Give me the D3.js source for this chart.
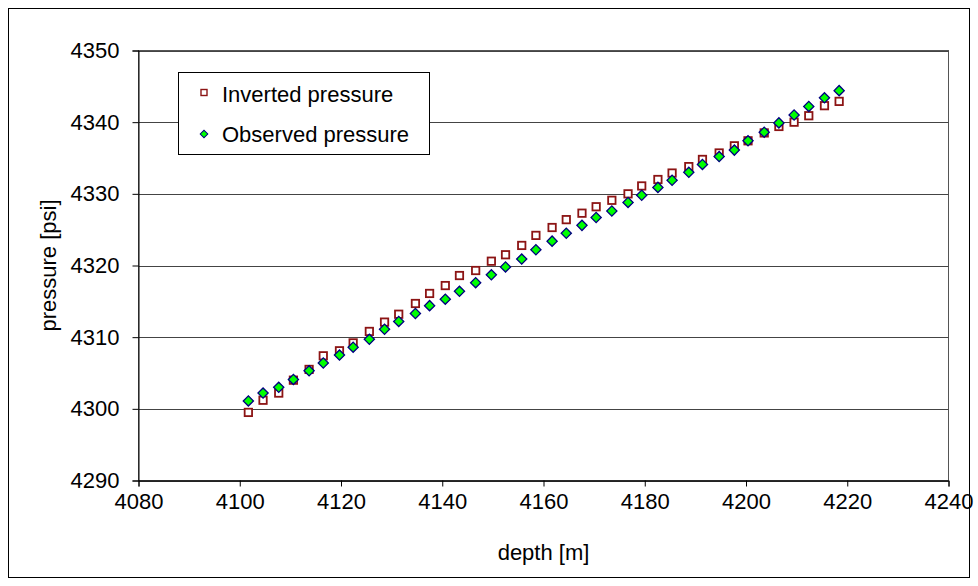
<!DOCTYPE html>
<html>
<head>
<meta charset="utf-8">
<script src="https://cdn.jsdelivr.net/npm/d3@7.9.0/dist/d3.min.js"></script>
<style>
  html, body { margin: 0; padding: 0; background: #fff; }
  svg text { font-family: "Liberation Sans", Arial, sans-serif; fill: #000; }
</style>
</head>
<body>
<svg id="chart" width="978" height="586"></svg>
<script>
const depth = [4101.7, 4104.6, 4107.7, 4110.6, 4113.7, 4116.5, 4119.7, 4122.4, 4125.6, 4128.6,
  4131.4, 4134.7, 4137.5, 4140.6, 4143.4, 4146.6, 4149.7, 4152.5, 4155.7, 4158.5,
  4161.7, 4164.5, 4167.6, 4170.4, 4173.5, 4176.7, 4179.4, 4182.6, 4185.4, 4188.7,
  4191.4, 4194.7, 4197.7, 4200.4, 4203.6, 4206.5, 4209.5, 4212.4, 4215.5, 4218.4];

const inverted = [4299.5, 4301.2, 4302.2, 4304.0, 4305.5, 4307.4, 4308.1, 4309.2, 4310.8, 4312.1,
  4313.2, 4314.7, 4316.1, 4317.2, 4318.6, 4319.3, 4320.6, 4321.5, 4322.8, 4324.2,
  4325.3, 4326.4, 4327.3, 4328.2, 4329.1, 4330.0, 4331.1, 4332.0, 4332.9, 4333.8,
  4334.8, 4335.7, 4336.7, 4337.4, 4338.5, 4339.4, 4340.0, 4340.9, 4342.3, 4342.9];

const observed = [4301.1, 4302.2, 4303.0, 4304.1, 4305.3, 4306.4, 4307.5, 4308.6, 4309.7, 4311.1,
  4312.2, 4313.3, 4314.4, 4315.3, 4316.4, 4317.6, 4318.7, 4319.8, 4320.9, 4322.2,
  4323.4, 4324.5, 4325.6, 4326.7, 4327.6, 4328.8, 4329.8, 4330.9, 4331.9, 4333.0,
  4334.1, 4335.2, 4336.1, 4337.4, 4338.6, 4339.9, 4341.0, 4342.2, 4343.4, 4344.4];

const xTicks = [4080, 4100, 4120, 4140, 4160, 4180, 4200, 4220, 4240];
const yTicks = [4290, 4300, 4310, 4320, 4330, 4340, 4350];
const seriesNames = ['Inverted pressure', 'Observed pressure'];

const svg = d3.select('#chart');
const plotLeft = 138.5, plotRight = 948.5, plotTop = 50.5, plotBottom = 480.5;

let x = d3.scaleLinear().domain([4080, 4240]).range([plotLeft, plotRight]);
let y = d3.scaleLinear().domain([4290, 4350]).range([plotBottom, plotTop]);

// outer chart border
svg.append('rect')
  .attr('x', 8.5).attr('y', 8.5)
  .attr('width', 961).attr('height', 569)
  .attr('fill', '#fff').attr('stroke', '#000').attr('stroke-width', 1);

// plot area border
svg.append('rect')
  .attr('x', plotLeft).attr('y', plotTop)
  .attr('width', plotRight - plotLeft).attr('height', plotBottom - plotTop)
  .attr('fill', '#fff').attr('stroke', '#555').attr('stroke-width', 1);

// horizontal gridlines
svg.append('g')
  .selectAll('line')
  .data(yTicks)
  .join('line')
  .attr('x1', plotLeft).attr('x2', plotRight)
  .attr('y1', (d) => Math.round(y(d)) + 0.5)
  .attr('y2', (d) => Math.round(y(d)) + 0.5)
  .attr('stroke', '#444').attr('stroke-width', 1);

// axes
let xAxis = svg.append('g')
  .attr('transform', `translate(0,${plotBottom})`)
  .call(d3.axisBottom(x).tickValues(xTicks).tickSize(6).tickPadding(7).tickFormat(d3.format('d')));

let yAxis = svg.append('g')
  .attr('transform', `translate(${plotLeft},0)`)
  .call(d3.axisLeft(y).tickValues(yTicks).tickSize(6).tickPadding(13).tickFormat(d3.format('d')));

[xAxis, yAxis].forEach((g) => {
  g.select('.domain').attr('stroke', '#000');
  g.selectAll('.tick line').attr('stroke', '#000');
  g.selectAll('.tick text')
    .attr('font-size', 22)
    .attr('font-family', '"Liberation Sans", Arial, sans-serif');
});

// axis titles
svg.append('text')
  .attr('x', (plotLeft + plotRight) / 2)
  .attr('y', 560)
  .attr('text-anchor', 'middle')
  .attr('font-size', 22)
  .text('depth [m]');

svg.append('text')
  .attr('transform', `translate(56,${(plotTop + plotBottom) / 2}) rotate(-90)`)
  .attr('text-anchor', 'middle')
  .attr('font-size', 22)
  .text('pressure [psi]');

// inverted pressure: open squares
svg.append('g')
  .selectAll('rect')
  .data(depth.map((d, i) => [d, inverted[i]]))
  .join('rect')
  .attr('x', (d) => x(d[0]) - 3.7)
  .attr('y', (d) => y(d[1]) - 3.7)
  .attr('width', 7.4).attr('height', 7.4)
  .attr('fill', '#fff')
  .attr('stroke', '#8c1414')
  .attr('stroke-width', 1.8);

// observed pressure: green diamonds
svg.append('g')
  .selectAll('rect')
  .data(depth.map((d, i) => [d, observed[i]]))
  .join('rect')
  .attr('x', -3.6).attr('y', -3.6)
  .attr('width', 7.2).attr('height', 7.2)
  .attr('transform', (d) => `translate(${x(d[0])},${y(d[1])}) rotate(45)`)
  .attr('fill', '#00ff00')
  .attr('stroke', '#000080')
  .attr('stroke-width', 1.3);

// legend
let legend = svg.append('g');
legend.append('rect')
  .attr('x', 178.5).attr('y', 72.5)
  .attr('width', 251).attr('height', 82)
  .attr('fill', '#fff').attr('stroke', '#000').attr('stroke-width', 1);

legend.append('rect')
  .attr('x', 201).attr('y', 89.5)
  .attr('width', 6).attr('height', 6)
  .attr('fill', '#fff').attr('stroke', '#8c1414').attr('stroke-width', 1.4);

legend.append('rect')
  .attr('x', -2.7).attr('y', -2.7)
  .attr('width', 5.4).attr('height', 5.4)
  .attr('transform', 'translate(204,134) rotate(45)')
  .attr('fill', '#00ff00').attr('stroke', '#000080').attr('stroke-width', 1);

legend.selectAll('text.label')
  .data(seriesNames)
  .join('text')
  .attr('class', 'label')
  .attr('x', 222)
  .attr('y', (d, i) => 102 + i * 40)
  .attr('font-size', 22)
  .text((d) => d);
</script>
</body>
</html>
